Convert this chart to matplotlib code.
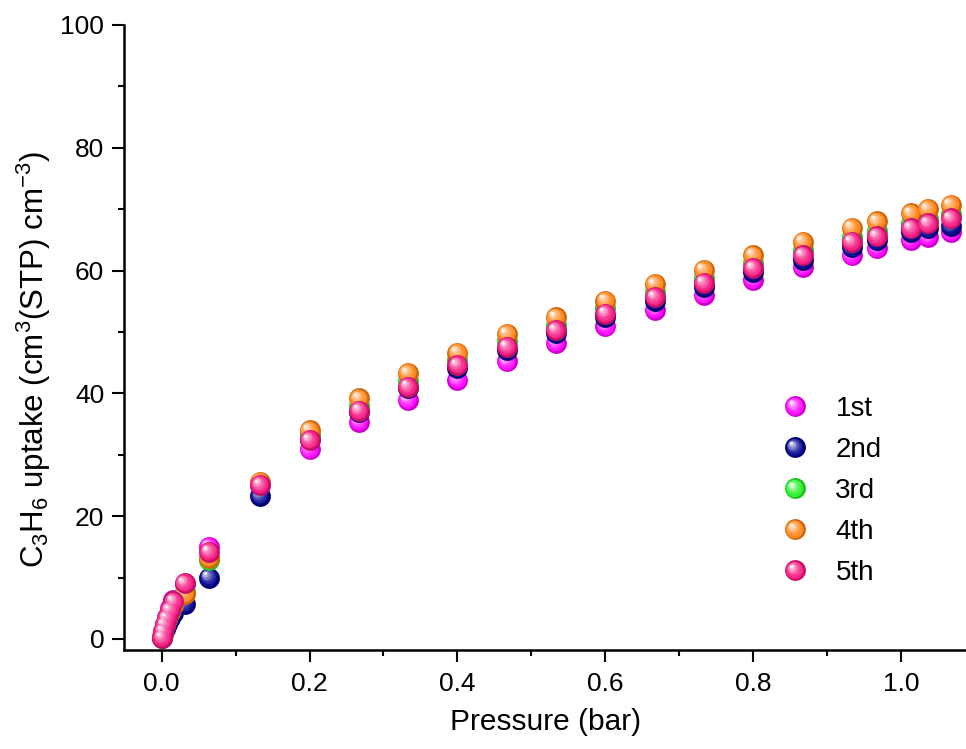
import numpy as np
import matplotlib
matplotlib.use("Agg")
import matplotlib.pyplot as plt
from matplotlib.transforms import ScaledTranslation
from matplotlib.legend_handler import HandlerLine2D, HandlerTuple
from matplotlib.ticker import MultipleLocator, FormatStrFormatter
from matplotlib.colors import to_rgb

plt.rcParams['font.family'] = ['Liberation Sans', 'DejaVu Sans']
plt.rcParams['mathtext.fontset'] = 'custom'
plt.rcParams['mathtext.rm'] = 'Liberation Sans'
plt.rcParams['mathtext.default'] = 'regular'

# ---------------- data ----------------
pressure = [0.0005, 0.002, 0.004, 0.007, 0.011, 0.016, 0.031, 0.064, 0.133,
            0.2, 0.267, 0.333, 0.4, 0.467, 0.533, 0.6, 0.667, 0.733, 0.8,
            0.867, 0.933, 0.967, 1.013, 1.036, 1.067]

run1 = [0.3, 1.3, 2.5, 3.6, 5.0, 6.3, 9.0, 15.0, 25.0, 30.9, 35.4, 38.9, 42.2,
        45.2, 48.2, 50.9, 53.6, 56.0, 58.5, 60.6, 62.5, 63.6, 65.0, 65.5, 66.3]
run2 = [0.1, 0.8, 1.6, 2.5, 3.4, 4.2, 5.7, 10.0, 23.3, 32.6, 36.9, 40.8, 44.2,
        47.1, 49.8, 52.5, 55.1, 57.4, 59.8, 61.8, 63.8, 64.9, 66.3, 66.9, 67.3]
run3 = [0.3, 1.2, 2.2, 3.2, 4.4, 5.6, 7.6, 12.8, 25.3, 33.3, 38.0, 42.0, 45.5,
        48.5, 51.2, 53.9, 56.5, 58.8, 61.2, 63.3, 65.5, 66.4, 67.7, 68.4, 69.2]
run4 = [0.3, 1.2, 2.2, 3.2, 4.4, 5.5, 7.3, 13.2, 25.6, 34.0, 39.2, 43.3, 46.6,
        49.7, 52.4, 55.1, 57.8, 60.1, 62.5, 64.7, 67.0, 68.0, 69.3, 70.0, 70.7]
run5 = [0.2, 1.2, 2.3, 3.4, 4.7, 6.1, 9.1, 14.2, 25.1, 32.4, 37.2, 41.1, 44.6,
        47.6, 50.3, 53.0, 55.7, 58.0, 60.4, 62.5, 64.7, 65.6, 66.9, 67.7, 68.5]

labels = ["1st", "2nd", "3rd", "4th", "5th"]
colors = ["#FF00FF", "#000090", "#22EE22", "#FF8010", "#F5147F"]
series = [run1, run2, run3, run4, run5]

# ---------------- figure ----------------
W, H = 966, 749
fig = plt.figure(figsize=(W / 100, H / 100), dpi=100)
ax = fig.add_axes([124.3 / W, 1 - 650 / H, 1 - 124.3 / W, (650 - 25) / H])
ax.set_xlim(-0.0505, 1.0878)
ax.set_ylim(-1.8, 100)

MS = 15.0
NL = 6


def mix(c, t, target=(1, 1, 1)):
    c = np.array(to_rgb(c))
    return tuple(c * (1 - t) + np.array(target) * t)


class ShiftHandler(HandlerLine2D):
    def __init__(self, dx, dy, **kw):
        super().__init__(**kw)
        self.dx, self.dy = dx, dy

    def create_artists(self, legend, orig_handle, xdescent, ydescent, width,
                       height, fontsize, trans):
        arts = super().create_artists(legend, orig_handle, xdescent, ydescent,
                                      width, height, fontsize, trans)
        for a in arts:
            a.set_xdata(np.asarray(a.get_xdata(), float) + self.dx)
            a.set_ydata(np.asarray(a.get_ydata(), float) + self.dy)
        return arts


handles = []
hmap = {}
for i, (vals, col, lab) in enumerate(zip(series, colors, labels)):
    z = 3 + i
    base, = ax.plot(pressure, vals, 'o', ls='none', ms=MS,
                    mfc=mix(col, 0.2, (0, 0, 0)), mec='none', zorder=z,
                    label=lab, clip_on=False)
    group = [base]
    for k in range(1, NL + 1):
        t = k / NL
        size = MS * (1 - 0.85 * t)
        c = mix(col, 0.92 * t ** 1.6)
        off = 3.0 * t
        tr = ax.transData + ScaledTranslation(-off / 72, off / 72,
                                              fig.dpi_scale_trans)
        ln, = ax.plot(pressure, vals, 'o', ls='none', ms=size, mfc=c,
                      mec='none', zorder=z + 0.01 * k, transform=tr,
                      clip_on=False)
        hmap[ln] = ShiftHandler(-off, off)
        group.append(ln)
    handles.append(tuple(group))

hmap[tuple] = HandlerTuple(ndivide=1, pad=0)

leg = ax.legend(handles, labels, handler_map=hmap, numpoints=1,
                loc='upper left', bbox_to_anchor=(784 / W, 1 - 396 / H),
                bbox_transform=fig.transFigure, frameon=False,
                fontsize=20, handlelength=0.8, handletextpad=1.05,
                labelspacing=0.54, borderpad=0, borderaxespad=0)

# ---------------- axes styling ----------------
for s in ['top', 'right']:
    ax.spines[s].set_visible(False)
for s in ['left', 'bottom']:
    ax.spines[s].set_linewidth(1.8)

ax.xaxis.set_major_locator(MultipleLocator(0.2))
ax.xaxis.set_minor_locator(MultipleLocator(0.1))
ax.yaxis.set_major_locator(MultipleLocator(20))
ax.yaxis.set_minor_locator(MultipleLocator(10))
ax.tick_params(which='major', direction='out', length=8.5, width=1.5,
               labelsize=19)
ax.tick_params(axis='x', which='major', pad=7)
ax.tick_params(axis='y', which='major', pad=6)
ax.tick_params(which='minor', direction='out', length=4.5, width=1.5)
ax.xaxis.set_major_formatter(FormatStrFormatter('%.1f'))

ax.set_xlabel("Pressure (bar)", fontsize=21.5)
ax.xaxis.set_label_coords(0.5, -0.093)
ax.set_ylabel("C$_3$H$_6$ uptake (cm$^3$(STP) cm$^{-3}$)", fontsize=22.5)
ax.yaxis.set_label_coords(-0.085, 0.465)

fig.savefig("out.png", dpi=100)
